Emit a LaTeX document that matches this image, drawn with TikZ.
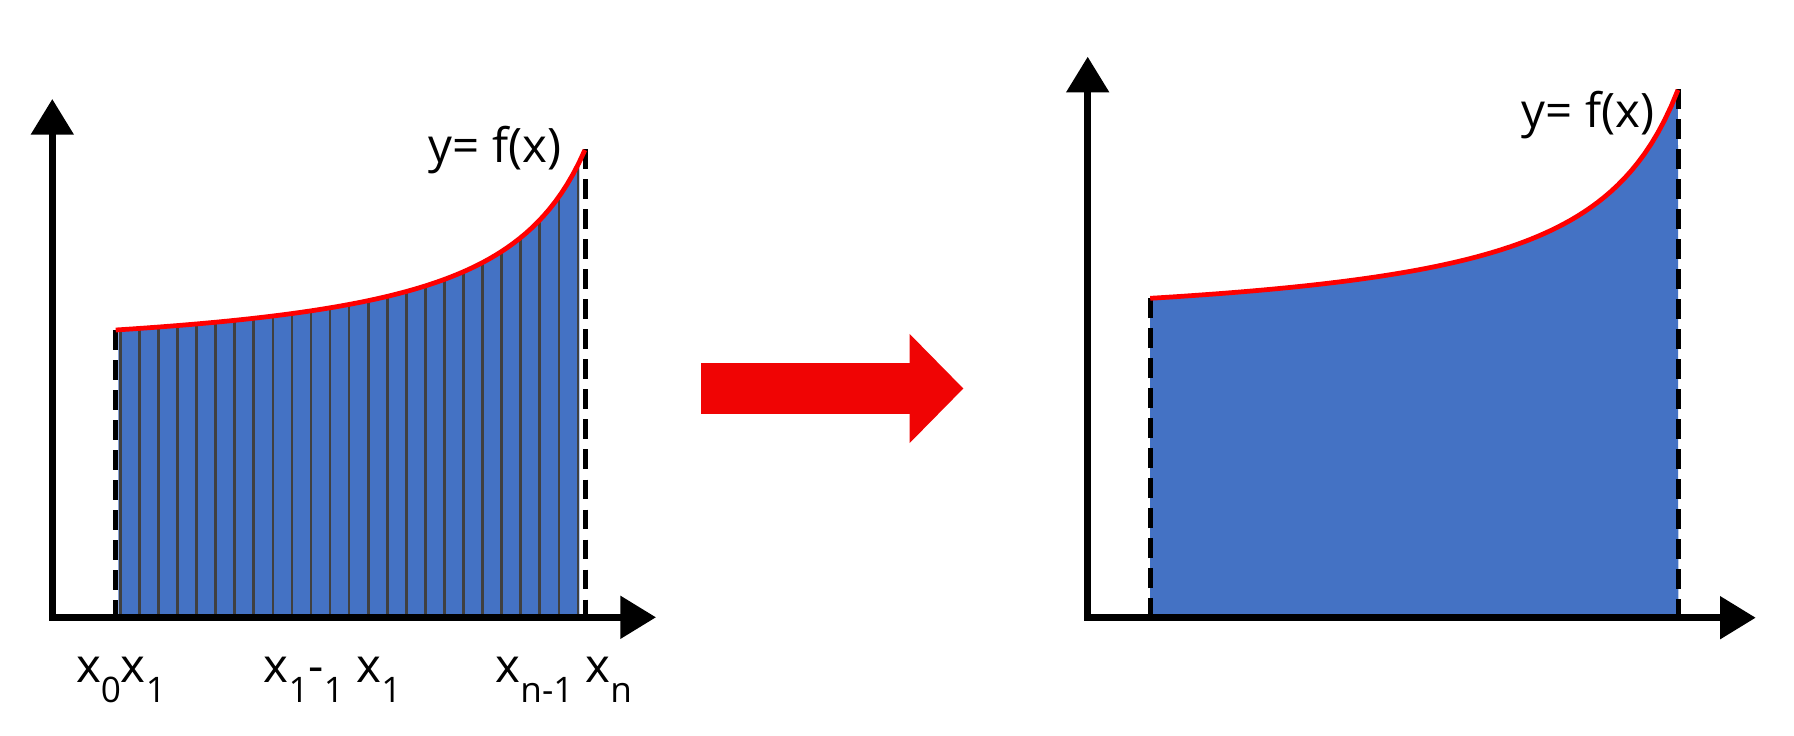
\documentclass[tikz,border=0pt]{standalone}
\usepackage{fontspec}
\setmainfont{Open Sans}
\usetikzlibrary{arrows.meta}
\definecolor{areablue}{HTML}{4472C4}
\definecolor{stripegray}{HTML}{404040}
\definecolor{curvered}{HTML}{FF0000}
\definecolor{bigred}{RGB}{240,4,4}
\newcommand{\lowsub}[1]{\raisebox{-0.2cm}{\fontsize{10}{10}\selectfont #1}}

\begin{document}
\begin{tikzpicture}[x=0.01cm, y=0.01cm, every node/.style={font=\fontsize{13.5}{16}\selectfont, inner sep=0pt}]
  \tikzstyle{axis}=[line width=1.9pt, {Triangle[length=0.357cm,width=0.416cm]}-{Triangle[length=0.357cm,width=0.416cm]}]
  \tikzstyle{bound}=[line width=1.5pt, dash pattern=on 0.195cm off 0.105cm]
  \tikzstyle{fx}=[line width=1.35pt, curvered]
  \tikzstyle{strip}=[line width=0.77pt, stripegray]
  \useasboundingbox (0,0) rectangle (1794,735);

  % left: area as a sum of strips
  \begin{scope}[shift={(52.3,117.7)}]
    \coordinate (o1) at (0,0);
    \coordinate (ytip1) at (0,518.3);
    \coordinate (xtip1) at (603.7,0);
    \coordinate (a1top) at (63.4,287.3);
    \coordinate (a1) at (63.4,0);
    \coordinate (b1top) at (532.9,468);
    \coordinate (b1) at (532.9,0);
    \begin{scope}
      \clip (66,0) rectangle (527,500);
      \clip (a1) -- plot[domain=0:1,samples=80] ({63.4+469.5*\x},{251.16+43.37/(1.2-\x)}) -- (b1) -- cycle;
      \fill[areablue] (0,0) rectangle (600,500);
      \foreach \i in {0,...,24}
        \draw[strip] ({68+19.07*\i},0) -- ++(0,500);
    \end{scope}
    \draw[bound] (a1top) -- (a1);
    \draw[bound] (b1top) -- (b1);
    \draw[fx] plot[domain=0:1,samples=80] ({63.4+469.5*\x},{251.16+43.37/(1.2-\x)});
    \draw[axis] (ytip1) -- (o1) -- (xtip1);
    \node[anchor=base east] (fx1) at (509.7,454.7) {y= f(x)};
    \node[anchor=base west] (lx0) at (23,-65.1) {x\lowsub{0}x\lowsub{1}};
    \node[anchor=base west] (lxi) at (210.7,-65.1) {x\lowsub{1}-\lowsub{1} x\lowsub{1}};
    \node[anchor=base west] (lxm) at (442.6,-65.1) {x\lowsub{n-1}};
    \node[anchor=base west] (lxn) at (532.6,-65.1) {x\lowsub{n}};
  \end{scope}

  % big arrow
  \fill[bigred] (701,321.2) -- (909.5,321.2) -- (909.5,291.8) -- (963.3,346.5)
    -- (909.5,401.2) -- (909.5,371.8) -- (701,371.8) -- cycle;

  % right: the whole area
  \begin{scope}[shift={(1087.7,117.3)}]
    \coordinate (o2) at (0,0);
    \coordinate (ytip2) at (0,561);
    \coordinate (xtip2) at (668,0);
    \coordinate (a2top) at (62.5,319.4);
    \coordinate (a2) at (62.5,0);
    \coordinate (b2top) at (590.6,528.7);
    \coordinate (b2) at (590.6,0);
    \fill[areablue] (a2) -- plot[domain=0:1,samples=80] ({62.5+528.1*\x},{281.72+44.46/(1.18-\x)}) -- (b2) -- cycle;
    \draw[bound] (a2top) -- (a2);
    \draw[bound] (b2top) -- (b2);
    \draw[fx] plot[domain=0:1,samples=80] ({62.5+528.1*\x},{281.72+44.46/(1.18-\x)});
    \draw[axis] (ytip2) -- (o2) -- (xtip2);
    \node[anchor=base east] (fx2) at (567.3,490.4) {y= f(x)};
  \end{scope}
\end{tikzpicture}
\end{document}
